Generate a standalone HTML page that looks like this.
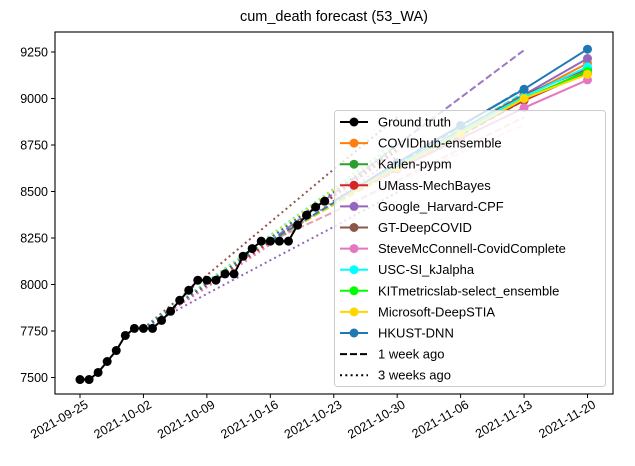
<!DOCTYPE html>
<html><head><meta charset="utf-8">
<style>
html,body{margin:0;padding:0;background:#fff;}
svg{display:block;font-family:"Liberation Sans","DejaVu Sans",sans-serif;}
</style></head>
<body>
<svg id="chart" width="635" height="466" viewBox="0 0 635 466" xmlns="http://www.w3.org/2000/svg">
<text x="334" y="21" font-size="14.5" text-anchor="middle" fill="#000">cum_death forecast (53_WA)</text>
<g id="plot"></g>
<g id="axes"></g>
<g id="legend"></g>
</svg>
<script>
// ---- data ----
const truthStart = 0; // day offset from 2021-09-25
const truthValues = [7489,7489,7527,7586,7645,7726,7764,7764,7764,7807,7856,7915,7969,8023,8023,8023,8057,8057,8152,8193,8233,8233,8233,8233,8319,8373,8416,8448];
const models = ["COVIDhub-ensemble","Karlen-pypm","UMass-MechBayes","Google_Harvard-CPF","GT-DeepCOVID","SteveMcConnell-CovidComplete","USC-SI_kJalpha","KITmetricslab-select_ensemble","Microsoft-DeepSTIA","HKUST-DNN"];
const colors = ["#ff7f0e","#2ca02c","#d62728","#9467bd","#8c564b","#e377c2","#00ffff","#00ff00","#ffd700","#1f77b4"];
// current forecasts: days 28,35,42,49,56
const currentDays = [28,35,42,49,56];
const currentOrange = [8448,8640,8825,9010,9190];
const currentGreen = [8448,8630,8810,8995,9150];
const currentRed = [8448,8630,8810,8990,9140];
const currentPurple = [8448,8640,8830,9020,9215];
const currentBrown = [8448,8640,8830,9020,9160];
const currentPink = [8448,8620,8785,8950,9100];
const currentCyan = [8448,8640,8825,9010,9170];
const currentLime = [8448,8630,8810,9000,9145];
const currentYellow = [8448,8630,8810,9000,9130];
const currentBlue = [8448,8655,8855,9050,9265];
// 1 week ago forecasts: days 21..49
const weekDays = [21,28,35,42,49];
const weekOrange = [8233,8430,8620,8810,9000];
const weekGreen = [8233,8430,8615,8800,8990];
const weekRed = [8233,8390,8560,8730,8900];
const weekPurple = [8233,8490,8750,9005,9260];
const weekBrown = [8233,8435,8630,8830,9030];
const weekPink = [8233,8390,8550,8710,8860];
const weekCyan = [8233,8435,8630,8830,9030];
const weekLime = [8233,8430,8620,8810,9000];
const weekYellow = [8233,8430,8620,8810,9000];
const weekBlue = [8233,8440,8645,8850,9055];
// 3 weeks ago forecasts: days 7..35
const dotDays = [7,14,21,28,35];
const dotOrange = [7764,7990,8230,8475,8720];
const dotGreen = [7764,7995,8235,8480,8730];
const dotRed = [7764,7990,8230,8475,8720];
const dotPurple = [7764,7950,8130,8310,8495];
const dotBrown = [7764,8050,8335,8620,8900];
const dotPink = [7764,7985,8215,8450,8690];
const dotCyan = [7764,8015,8265,8515,8770];
const dotLime = [7764,8010,8255,8500,8750];
const dotYellow = [7764,8010,8260,8510,8760];
const dotBlue = [7764,8005,8250,8495,8740];
const yTicks = [7500,7750,8000,8250,8500,8750,9000,9250];
const xTickDays = [0,7,14,21,28,35,42,49,56];
const xTickLabels = ["2021-09-25","2021-10-02","2021-10-09","2021-10-16","2021-10-23","2021-10-30","2021-11-06","2021-11-13","2021-11-20"];

const current = [currentOrange,currentGreen,currentRed,currentPurple,currentBrown,currentPink,currentCyan,currentLime,currentYellow,currentBlue];
const week = [weekOrange,weekGreen,weekRed,weekPurple,weekBrown,weekPink,weekCyan,weekLime,weekYellow,weekBlue];
const dots = [dotOrange,dotGreen,dotRed,dotPurple,dotBrown,dotPink,dotCyan,dotLime,dotYellow,dotBlue];

// ---- scales ----
const L=55,R=613,T=32,B=394;
function xs(d){return 80 + d*(507.5/56);}
function ys(v){return 52 + (9250-v)*(46.5/250);}
const NS="http://www.w3.org/2000/svg";
function mk(tag,attrs,parent){const e=document.createElementNS(NS,tag);for(const k in attrs)e.setAttribute(k,attrs[k]);parent.appendChild(e);return e;}
const plot=document.getElementById('plot');
function pts(days,vals){return days.map((d,i)=>xs(d).toFixed(1)+","+ys(vals[i]).toFixed(1)).join(" ");}

dots.forEach((vals,i)=>{
  const p=mk('polyline',{points:pts(dotDays,vals),fill:'none',stroke:colors[i],'stroke-width':2,'stroke-dasharray':'2,3.3'},plot);
  
  
});
week.forEach((vals,i)=>{
  const p=mk('polyline',{points:pts(weekDays,vals),fill:'none',stroke:colors[i],'stroke-width':2,'stroke-dasharray':'7,3','opacity':(i==5||i==2)?0.35:0.9},plot);
  
  
});
current.forEach((vals,i)=>{
  const g=mk('g',{},plot);
  
  
  mk('polyline',{points:pts(currentDays,vals),fill:'none',stroke:colors[i],'stroke-width':2},g);
  currentDays.forEach((d,j)=>{ if(j>0){const c=mk('circle',{cx:xs(d),cy:ys(vals[j]),r:4.5,fill:colors[i]},g);
    
    }});
});
const tg=mk('g',{},plot);


const tdays=truthValues.map((v,i)=>truthStart+i);
mk('polyline',{points:pts(tdays,truthValues),fill:'none',stroke:'#000','stroke-width':2},tg);
truthValues.forEach((v,i)=>{const c=mk('circle',{cx:xs(tdays[i]),cy:ys(v),r:4.5,fill:'#000'},tg);
  
  });

// ---- axes ----
const ax=document.getElementById('axes');
const fr=mk('rect',{x:L,y:T,width:R-L,height:B-T,fill:'none',stroke:'#000','stroke-width':1.1},ax);


yTicks.forEach(v=>{
  mk('line',{x1:L-4,x2:L,y1:ys(v),y2:ys(v),stroke:'#000'},ax);
  const t=mk('text',{x:L-7,y:ys(v)+4.5,'font-size':12.5,'text-anchor':'end'},ax);
  t.textContent=v;
  
  
});
xTickDays.forEach((d,i)=>{
  const x=xs(d);
  mk('line',{x1:x,x2:x,y1:B,y2:B+4,stroke:'#000'},ax);
  const tx=x+9, ty=B+13;
  const t=mk('text',{x:tx,y:ty,'font-size':12.5,'text-anchor':'end',transform:`rotate(-30 ${tx} ${ty})`},ax);
  t.textContent=xTickLabels[i];
  
  
});

// ---- legend ----
const lg=document.getElementById('legend');


mk('rect',{x:334.5,y:110.5,width:271,height:276,rx:3,fill:'#fff','fill-opacity':0.8,stroke:'#ccc'},lg);
const entries=[["Ground truth","#000","solid"]].concat(models.map((m,i)=>[m,colors[i],"solid"])).concat([["1 week ago","#000","dash"],["3 weeks ago","#000","dot"]]);
entries.forEach((e,i)=>{
  const y=122+i*21.1;
  const g=mk('g',{},lg);
  
  
  const la={x1:340,x2:368,y1:y,y2:y,stroke:e[1],'stroke-width':2};
  if(e[2]=='dash')la['stroke-dasharray']='7,3';
  if(e[2]=='dot')la['stroke-dasharray']='2,3.3';
  mk('line',la,g);
  if(e[2]=='solid')mk('circle',{cx:354,cy:y,r:4.5,fill:e[1]},g);
  const t=mk('text',{x:378,y:y+4.5,'font-size':13},g);
  t.textContent=e[0];
});
</script>
</body></html>
